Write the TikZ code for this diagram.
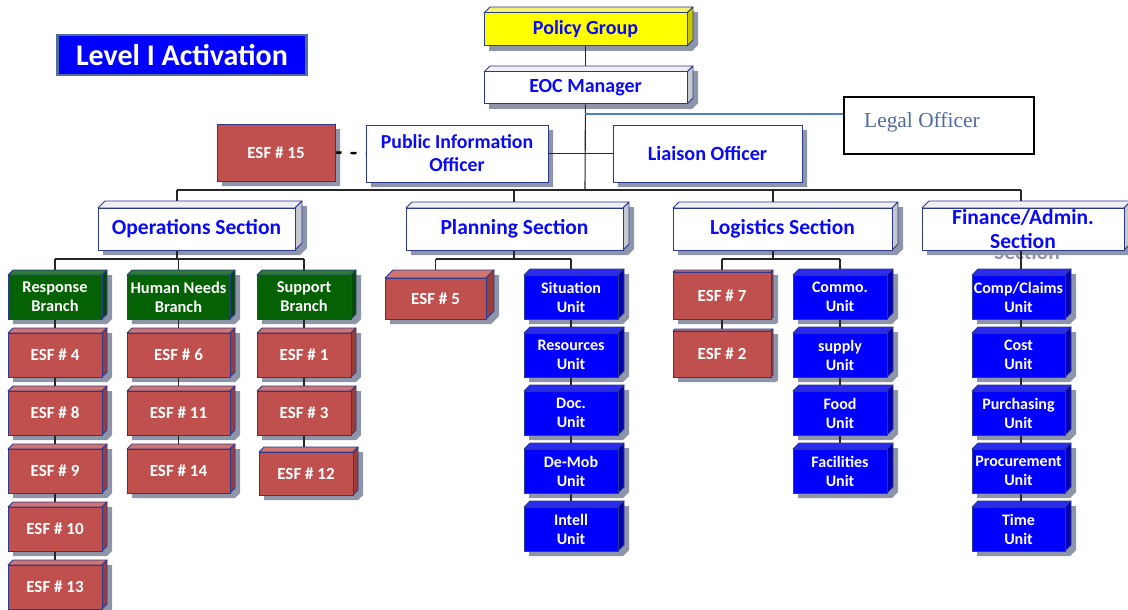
\documentclass[tikz,border=0pt]{standalone}
\usepackage{fontspec}
\setmainfont{Carlito}
\newfontfamily\legalfont{Liberation Serif}
\pgfdeclarelayer{shadow}\pgfdeclarelayer{lines}
\pgfsetlayers{shadow,lines,main}
\definecolor{edgec}{HTML}{2B3A8C}
\definecolor{shadowc}{HTML}{8E95A8}
\definecolor{redf}{HTML}{C0504D}\definecolor{redt}{HTML}{CF7471}\definecolor{reds}{HTML}{9A3E3C}\definecolor{redx}{HTML}{FFFFFF}
\definecolor{grnf}{HTML}{046204}\definecolor{grnt}{HTML}{2E7D2E}\definecolor{grns}{HTML}{034A03}\definecolor{grnx}{HTML}{FFFFFF}
\definecolor{bluf}{HTML}{0000FF}\definecolor{blut}{HTML}{2A2AF0}\definecolor{blus}{HTML}{0000B0}\definecolor{blux}{HTML}{FFFFFF}
\definecolor{whif}{HTML}{FFFFFF}\definecolor{whit}{HTML}{F0F0F4}\definecolor{whis}{HTML}{C6C8D0}\definecolor{whix}{HTML}{0A0AF5}
\definecolor{yelf}{HTML}{FFFF00}\definecolor{yelt}{HTML}{F4F470}\definecolor{yels}{HTML}{C8C800}\definecolor{yelx}{HTML}{0A0AF5}
\definecolor{lvlborder}{HTML}{4F6E9A}
\definecolor{legalc}{HTML}{4E6A9E}
\definecolor{legalline}{HTML}{4F7FBD}
\tikzset{
  facedge/.style={draw=edgec, line width=0.8pt, line join=round},
  boxfront/.style={draw=edgec, line width=1pt, inner sep=0pt, align=center},
  conn/.style={draw=black!85, line width=1.1pt},
  dashconn/.style={draw=black, line width=2.4pt, dash pattern=on 6pt off 9pt},
}
% #1 name, #2 colour set, #3 x1, #4 y1, #5 x2, #6 y2, #7 depth, #8 text, #9 {size}{skip}
\newcommand\cubebox[9]{%
  \begin{pgfonlayer}{shadow}
    \fill[shadowc] (#3+5,#4-#7+5) -- (#5+#7+5,#4-#7+5) -- (#5+#7+5,#6-#7+5) -- (#5+5,#6+5) -- (#3+5,#6+5) -- cycle;
  \end{pgfonlayer}
  \filldraw[facedge, fill=#2t] (#3,#4) -- (#3+#7,#4-#7) -- (#5+#7,#4-#7) -- (#5,#4) -- cycle;
  \filldraw[facedge, fill=#2s] (#5,#4) -- (#5+#7,#4-#7) -- (#5+#7,#6-#7) -- (#5,#6) -- cycle;
  \node[boxfront, fill=#2f, text=#2x, font=\bfseries\fontsize#9\selectfont,
        minimum width=#5-#3, minimum height=#6-#4] (#1) at ({(#3+#5)/2},{(#4+#6)/2}) {#8};
}
\begin{document}
\begin{tikzpicture}[x=1pt,y=-1pt]
\useasboundingbox (0,0) rectangle (1128,610);
\clip (0,0) rectangle (1128,610);

% title
\node[fill=bluf, draw=lvlborder, line width=2.7pt, minimum width=249, minimum height=40, inner sep=0pt,
      text=white, font=\bfseries\fontsize{30}{34}\selectfont] (level) at (182,55) {Level I Activation};

% top
\cubebox{policy}{yel}{484}{13}{687}{46}{6}{Policy Group}{{20}{24}}
\cubebox{eoc}{whi}{484}{72}{687}{104}{6}{EOC Manager}{{20}{24}}
\cubebox{esf15}{red}{217}{124}{335}{181}{0}{ESF \# 15}{{17}{20}}
\cubebox{pio}{whi}{366}{125}{548}{182}{0}{Public Information\\Officer}{{19.8}{23}}
\cubebox{liaison}{whi}{613}{125}{802}{182}{0}{Liaison Officer}{{20.2}{24}}
\node[draw=black, line width=2pt, minimum width=190, minimum height=57, inner sep=0pt] (legal) at (938.5,125.5) {};
\node[anchor=west, inner sep=0pt, text=legalc, font=\legalfont\fontsize{21.4}{24}\selectfont] (legaltext) at (864,122) {Legal Officer};

% sections
\begin{pgfonlayer}{shadow}
  \node[text=shadowc, font=\bfseries\fontsize{21.5}{25}\selectfont] (finshadow) at (1027,252) {Section};
\end{pgfonlayer}
\cubebox{ops}{whi}{98}{208}{295}{250}{7}{Operations Section}{{21.5}{25}}
\cubebox{plan}{whi}{406}{208}{623}{250}{6}{Planning Section}{{21.5}{25}}
\cubebox{logi}{whi}{673}{208}{892}{250}{6}{Logistics Section}{{21.5}{25}}
\cubebox{fin}{whi}{922}{208}{1124}{250}{7}{Finance/Admin.\\Section}{{21.5}{24}}

% operations branches
\cubebox{resp}{grn}{8}{275}{102}{319}{5}{Response\\Branch}{{16.4}{19}}
\cubebox{human}{grn}{127}{275}{230}{319}{5}{Human Needs\\Branch}{{16.4}{19}}
\cubebox{supp}{grn}{257}{275}{351}{319}{5}{Support\\Branch}{{16.4}{19}}
\cubebox{esf4}{red}{8}{333}{102}{377}{5}{ESF \# 4}{{17}{20}}
\cubebox{esf8}{red}{8}{391}{102}{435}{5}{ESF \# 8}{{17}{20}}
\cubebox{esf9}{red}{8}{449}{102}{493}{5}{ESF \# 9}{{17}{20}}
\cubebox{esf10}{red}{8}{507}{102}{551}{5}{ESF \# 10}{{17}{20}}
\cubebox{esf13}{red}{8}{565}{102}{609}{5}{ESF \# 13}{{17}{20}}
\cubebox{esf6}{red}{127}{333}{230}{377}{5}{ESF \# 6}{{17}{20}}
\cubebox{esf11}{red}{127}{391}{230}{435}{5}{ESF \# 11}{{17}{20}}
\cubebox{esf14}{red}{127}{449}{230}{493}{5}{ESF \# 14}{{17}{20}}
\cubebox{esf1}{red}{257}{333}{351}{377}{5}{ESF \# 1}{{17}{20}}
\cubebox{esf3}{red}{257}{391}{351}{435}{5}{ESF \# 3}{{17}{20}}
\cubebox{esf12}{red}{259}{452}{353}{495}{5}{ESF \# 12}{{17}{20}}

% planning
\cubebox{esf5}{red}{385}{278}{486}{319}{8}{ESF \# 5}{{17}{20}}
\cubebox{sit}{blu}{524}{275}{618}{319}{6}{Situation\\Unit}{{16}{19}}
\cubebox{res}{blu}{524}{333}{618}{377}{6}{Resources\\Unit}{{16}{19}}
\cubebox{doc}{blu}{524}{391}{618}{435}{6}{Doc.\\Unit}{{16}{19}}
\cubebox{demob}{blu}{524}{449}{618}{493}{6}{De-Mob\\Unit}{{16}{19}}
\cubebox{intell}{blu}{524}{507}{618}{551}{6}{Intell\\Unit}{{16}{19}}

% logistics
\cubebox{esf7}{red}{673}{272}{771}{319}{2}{ESF \# 7}{{17}{20}}
\cubebox{esf2}{red}{673}{331}{771}{377}{2}{ESF \# 2}{{17}{20}}
\cubebox{commo}{blu}{793}{275}{887}{319}{6}{Commo.\\Unit}{{16}{19}}
\cubebox{supply}{blu}{793}{333}{887}{377}{6}{supply\\Unit}{{16}{19}}
\cubebox{food}{blu}{793}{391}{887}{435}{6}{Food\\Unit}{{16}{19}}
\cubebox{facil}{blu}{793}{449}{887}{493}{6}{Facilities\\Unit}{{16}{19}}

% finance
\cubebox{comp}{blu}{972}{275}{1065}{319}{6}{Comp/Claims\\Unit}{{16}{19}}
\cubebox{cost}{blu}{972}{333}{1065}{377}{6}{Cost\\Unit}{{16}{19}}
\cubebox{purch}{blu}{972}{391}{1065}{435}{6}{Purchasing\\Unit}{{16}{19}}
\cubebox{procure}{blu}{972}{449}{1065}{493}{6}{Procurement\\Unit}{{16}{19}}
\cubebox{time}{blu}{972}{507}{1065}{551}{6}{Time\\Unit}{{16}{19}}

% connector coordinates
\coordinate (hub) at (585,190);
\coordinate (barW) at (177,190);
\coordinate (barE) at (1021,190);
\coordinate (plandrop) at (514,190);
\coordinate (logdrop) at (773,190);
\coordinate (opsjoin) at (177,259);
\coordinate (planjoin) at (514,259);
\coordinate (logjoin) at (773,259);
\coordinate (legaljoin) at (585,114);

\begin{pgfonlayer}{lines}
  \draw[conn] (policy) -- (policy |- eoc.north);
  \draw[conn] (eoc) -- (hub);
  \draw[draw=legalline, line width=1.4pt] (legaljoin) -- (legaljoin -| legal.west);
  \draw[conn] (pio.east) -- (pio.east -| hub);
  \draw[conn] (liaison.west) -- (liaison.west -| hub);
  \draw[dashconn] (esf15.east) -- (pio.west);
  \draw[conn] (barW) -- (barE);
  \draw[conn] (barW) -- (opsjoin);
  \draw[conn] (plandrop) -- (planjoin);
  \draw[conn] (logdrop) -- (logjoin);
  \draw[conn] (barE) -- (barE |- time);
  % operations
  \draw[conn] (opsjoin -| resp) -- (opsjoin -| supp);
  \draw[conn] (opsjoin -| resp) -- (esf13);
  \draw[conn] (opsjoin -| human) -- (esf14);
  \draw[conn] (opsjoin -| supp) -- (supp |- esf12);
  % planning
  \draw[conn] (planjoin -| esf5) -- (planjoin -| sit);
  \draw[conn] (planjoin -| esf5) -- (esf5);
  \draw[conn] (planjoin -| sit) -- (intell);
  % logistics
  \draw[conn] (logjoin -| esf7) -- (logjoin -| commo);
  \draw[conn] (logjoin -| esf7) -- (esf2);
  \draw[conn] (logjoin -| commo) -- (facil);
\end{pgfonlayer}
\end{tikzpicture}
\end{document}
